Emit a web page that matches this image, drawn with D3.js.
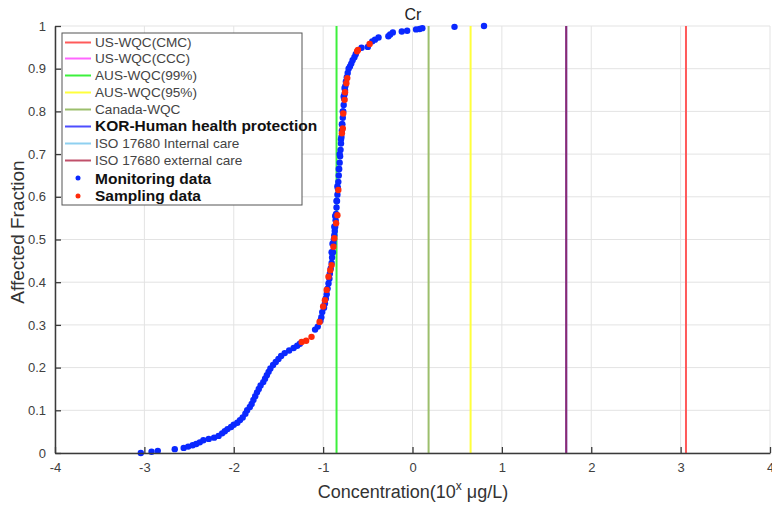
<!DOCTYPE html>
<html>
<head>
<meta charset="utf-8">
<script src="https://cdn.jsdelivr.net/npm/d3@7"></script>
<style>
  body { margin: 0; background: #fff; }
  svg { display: block; font-family: "Liberation Sans", Arial, sans-serif; }
</style>
</head>
<body>
<svg id="chart" width="772" height="506"></svg>
<script>
// tick values
var xTicks = [-4, -3, -2, -1, 0, 1, 2, 3, 4]
var yTicks = [0, 0.1, 0.2, 0.3, 0.4, 0.5, 0.6, 0.7, 0.8, 0.9, 1]

// guideline names, colours and positions (log10 ug/L), null = not drawn
var guideNames = ["US-WQC(CMC)", "US-WQC(CCC)", "AUS-WQC(99%)", "AUS-WQC(95%)", "Canada-WQC",
                  "KOR-Human health protection", "ISO 17680 Internal care", "ISO 17680 external care"]
var guideColors = ["#ff5a5a", "#ff66ff", "#3cf03c", "#ffff3c", "#9cbf6c", "#4d4dff", "#8fd0f0", "#c0506a"]
var guideValues = [3.06, null, -0.85, 0.65, 0.18, 1.72, null, 1.72]

// monitoring data [log concentration, affected fraction]
var monitoring = [
  [-3.04,0.0],[-2.92,0.003],[-2.85,0.005],[-2.66,0.009],[-2.56,0.012],[-2.51,0.015],[-2.46,0.018],
  [-2.42,0.021],[-2.38,0.025],[-2.34,0.03],[-2.28,0.033],[-2.22,0.036],[-2.17,0.04],[-2.13,0.046],
  [-2.1,0.051],[-2.07,0.056],[-2.03,0.061],[-2.0,0.066],[-1.96,0.071],[-1.93,0.077],[-1.9,0.083],
  [-1.87,0.092],[-1.85,0.1],[-1.82,0.108],[-1.8,0.115],[-1.78,0.124],[-1.76,0.133],[-1.74,0.142],
  [-1.72,0.15],[-1.7,0.158],[-1.67,0.166],[-1.65,0.174],[-1.63,0.182],[-1.61,0.19],[-1.59,0.198],
  [-1.56,0.206],[-1.53,0.213],[-1.5,0.22],[-1.47,0.227],[-1.43,0.234],[-1.38,0.24],[-1.33,0.246],
  [-1.29,0.251],[-1.26,0.256],
  [-1.09,0.289],[-1.06,0.296],[-1.03,0.31],[-1.02,0.318],[-1.01,0.33],[-0.99,0.34],[-0.98,0.35],
  [-0.97,0.362],[-0.96,0.372],[-0.95,0.385],[-0.94,0.397],[-0.93,0.408],[-0.925,0.42],[-0.915,0.432],
  [-0.905,0.445],[-0.9,0.458],[-0.89,0.47],[-0.885,0.49],[-0.88,0.5],[-0.875,0.51],[-0.87,0.52],
  [-0.865,0.53],[-0.86,0.545],[-0.855,0.56],[-0.85,0.575],[-0.845,0.59],[-0.84,0.605],[-0.835,0.62],
  [-0.83,0.635],[-0.825,0.65],[-0.82,0.665],[-0.815,0.68],[-0.81,0.695],[-0.805,0.71],[-0.8,0.725],
  [-0.795,0.74],[-0.79,0.755],[-0.785,0.77],[-0.78,0.785],[-0.775,0.8],[-0.77,0.815],[-0.765,0.83],
  [-0.76,0.84],[-0.755,0.85],[-0.75,0.86],[-0.745,0.87],[-0.735,0.88],[-0.725,0.89],[-0.715,0.9],
  [-0.7,0.905],[-0.685,0.912],[-0.67,0.92],[-0.65,0.927],[-0.635,0.934],
  [-0.905,0.47],[-0.895,0.49],[-0.875,0.53],[-0.865,0.555],[-0.85,0.59],[-0.84,0.625],[-0.825,0.665],
  [-0.815,0.7],[-0.8,0.735],[-0.79,0.77],[-0.78,0.8],[-0.77,0.835],[-0.76,0.855],
  [-0.57,0.949],[-0.5,0.951],[-0.45,0.964],[-0.42,0.968],[-0.38,0.973],[-0.27,0.976],[-0.25,0.98],
  [-0.22,0.985],[-0.12,0.987],[-0.06,0.989],[0.04,0.992],[0.08,0.993],[0.11,0.995],[0.47,0.998],[0.8,1.0]
]

// sampling data [log concentration, affected fraction]
var sampling = [
  [-1.24,0.26],[-1.19,0.263],[-1.13,0.272],[-1.04,0.307],[-1.0,0.343],[-0.98,0.358],[-0.96,0.382],
  [-0.94,0.413],[-0.92,0.428],[-0.905,0.44],[-0.885,0.483],[-0.875,0.503],[-0.855,0.538],[-0.84,0.557],
  [-0.83,0.616],[-0.79,0.749],[-0.78,0.76],[-0.775,0.795],[-0.76,0.827],[-0.755,0.845],[-0.74,0.866],
  [-0.73,0.878],[-0.62,0.941],[-0.61,0.944],[-0.48,0.958]
]

var svg = d3.select("#chart")

var x = d3.scaleLinear().domain([-4, 4]).range([55, 770])
var y = d3.scaleLinear().domain([0, 1]).range([453, 26])

// grid
svg.append("g").selectAll("line").data(xTicks).enter().append("line")
  .attr("x1", d => x(d)).attr("x2", d => x(d))
  .attr("y1", y(0)).attr("y2", y(1))
  .style("stroke", "#e3e3e3").style("stroke-width", 1)
svg.append("g").selectAll("line").data(yTicks).enter().append("line")
  .attr("x1", x(-4)).attr("x2", x(4))
  .attr("y1", d => y(d)).attr("y2", d => y(d))
  .style("stroke", "#e3e3e3").style("stroke-width", 1)

// guideline verticals (ISO external drawn last, half transparent, over KOR)
var guides = guideNames.map((n, i) => ({name: n, color: guideColors[i], value: guideValues[i]}))
svg.append("g").selectAll("line").data(guides.filter(d => d.value !== null)).enter().append("line")
  .attr("x1", d => x(d.value)).attr("x2", d => x(d.value))
  .attr("y1", y(0)).attr("y2", y(1))
  .style("stroke", d => d.name == "ISO 17680 external care" ? "#a02040" : d.color)
  .style("stroke-opacity", d => d.name == "ISO 17680 external care" ? 0.75 : 1)
  .style("stroke-width", 2)

// points
svg.append("g").selectAll("circle").data(monitoring).enter().append("circle")
  .attr("cx", d => x(d[0])).attr("cy", d => y(d[1]))
  .attr("r", 3.2)
  .style("fill", "#0a28ff")
svg.append("g").selectAll("circle").data(sampling).enter().append("circle")
  .attr("cx", d => x(d[0])).attr("cy", d => y(d[1]))
  .attr("r", 3.2)
  .style("fill", "#ff2a0a")

// axes (ticks inward like matlab), plain hyphen minus signs
var fmt = d => String(d)
var xAxis = svg.append("g").attr("transform", "translate(0," + y(0) + ")")
  .call(d3.axisBottom(x).tickValues(xTicks).tickSizeInner(-6).tickSizeOuter(0).tickPadding(10).tickFormat(fmt))
var yAxis = svg.append("g").attr("transform", "translate(" + x(-4) + ",0)")
  .call(d3.axisLeft(y).tickValues(yTicks).tickSizeInner(-6).tickSizeOuter(0).tickPadding(9).tickFormat(fmt))
;[xAxis, yAxis].forEach(a => {
  a.select(".domain").style("stroke", "#3a3a3a").style("stroke-width", 1.5)
  a.selectAll(".tick line").style("stroke", "#3a3a3a").style("stroke-width", 1.3)
  a.selectAll("text").style("fill", "#404040").style("font-size", "13px")
    .style("font-family", "Liberation Sans, Arial, sans-serif")
})

// titles
svg.append("text").attr("x", 413).attr("y", 20).attr("text-anchor", "middle")
  .style("font-size", "16px").style("fill", "#222").text("Cr")
var xl = svg.append("text").attr("x", 413).attr("y", 498).attr("text-anchor", "middle")
  .style("font-size", "18px").style("fill", "#333")
xl.append("tspan").text("Concentration(10")
xl.append("tspan").attr("dy", -8).style("font-size", "12px").text("x")
xl.append("tspan").attr("dy", 8).text(" μg/L)")
svg.append("text").attr("transform", "translate(24,232) rotate(-90)").attr("text-anchor", "middle")
  .style("font-size", "19px").style("fill", "#333").text("Affected Fraction")

// legend
var leg = svg.append("g")
leg.append("rect").attr("x", 62).attr("y", 33).attr("width", 240).attr("height", 172)
  .style("fill", "#fff").style("stroke", "#555").style("stroke-width", 1)
var rowBase = [47, 63, 80, 97, 114, 131, 148, 165]
guides.forEach((g, i) => {
  leg.append("line").attr("x1", 65).attr("x2", 91).attr("y1", rowBase[i] - 4.5).attr("y2", rowBase[i] - 4.5)
    .style("stroke", g.color).style("stroke-width", 2)
  var bold = g.name.indexOf("KOR") == 0
  leg.append("text").attr("x", 95).attr("y", rowBase[i])
    .style("font-size", bold ? "15.5px" : "13.6px")
    .style("font-weight", bold ? "bold" : "normal")
    .style("fill", bold ? "#111" : "#444")
    .text(g.name)
})
var pointLeg = [["Monitoring data", "#0a28ff", 178, 184], ["Sampling data", "#ff2a0a", 196, 201]]
pointLeg.forEach(p => {
  leg.append("circle").attr("cx", 78).attr("cy", p[2]).attr("r", 2.5).style("fill", p[1])
  leg.append("text").attr("x", 95).attr("y", p[3])
    .style("font-size", "15.5px").style("font-weight", "bold").style("fill", "#111")
    .text(p[0])
})
</script>
</body>
</html>
